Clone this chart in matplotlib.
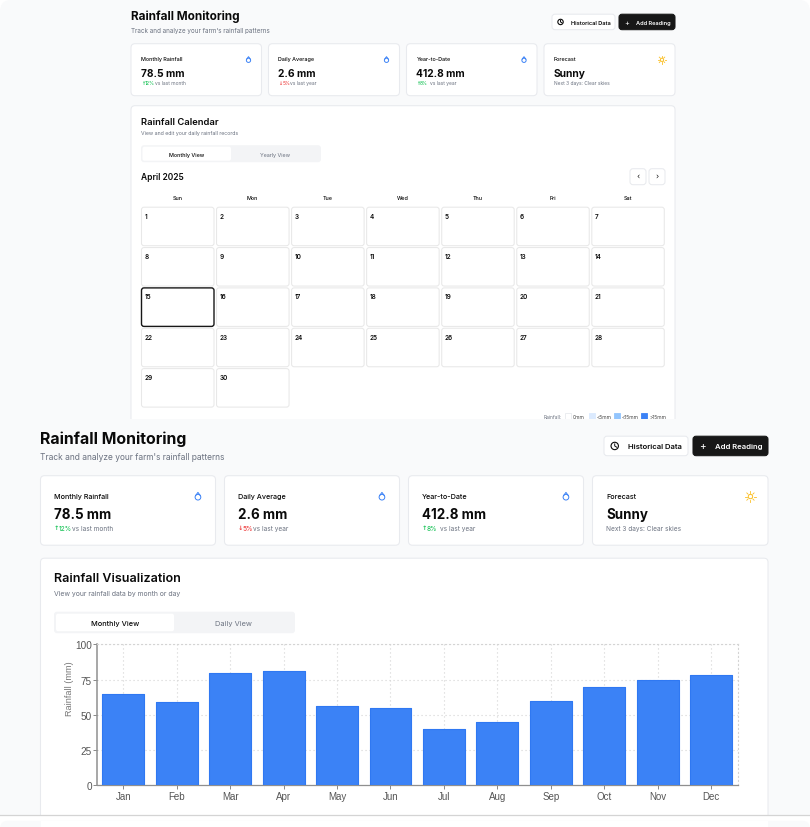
import matplotlib
matplotlib.use("Agg")
import matplotlib.pyplot as plt
from matplotlib.patches import FancyBboxPatch, Rectangle, Circle

# ---------- data ----------
months = ["Jan", "Feb", "Mar", "Apr", "May", "Jun", "Jul", "Aug", "Sep", "Oct", "Nov", "Dec"]
rainfall = [65, 59, 80, 81, 56, 55, 40, 45, 60, 70, 75, 78.5]
y_ticks = [0, 25, 50, 75, 100]
weekdays = ["Sun", "Mon", "Tue", "Wed", "Thu", "Fri", "Sat"]
days = list(range(1, 31))
card_titles = ["Monthly Rainfall", "Daily Average", "Year-to-Date", "Forecast"]
card_values = ["78.5 mm", "2.6 mm", "412.8 mm", "Sunny"]
card_deltas = ["12%", "5%", "8%", ""]
card_notes = ["vs last month", "vs last year", "vs last year", "Next 3 days: Clear skies"]
legend_labels = ["0mm", "<5mm", "<15mm", ">15mm"]
legend_colors = ["#ffffff", "#dbeafe", "#93c5fd", "#3b82f6"]

BG = "#f9fafb"
BORDER = "#e8eaee"
INK = "#0a0a0a"
MUTED = "#6b7280"
GREEN = "#22c55e"
RED = "#ef4444"
BLUE = "#3b82f6"
FONT = "Inter"
DY = 0.4
SHIFT = 0.7

fig = plt.figure(figsize=(8.10, 8.28), dpi=100, facecolor="white")
ui = fig.add_axes([0, 0, 1, 1])
ui.set_xlim(0, 810)
ui.set_ylim(828 - SHIFT, -SHIFT)
ui.axis("off")


def box(x0, y0, x1, y1, fc="white", ec=BORDER, lw=0.75, r=3.0, z=1):
    ui.add_patch(FancyBboxPatch((x0 + r, y0 + r), x1 - x0 - 2 * r, y1 - y0 - 2 * r,
                                boxstyle=f"round,pad={r},rounding_size={r}",
                                fc=fc, ec=ec, lw=lw, zorder=z))


def txt(x, y, s, px, color=INK, weight="normal", ha="left", family=FONT):
    ui.text(x, y + DY, s, fontsize=px * 0.72, color=color, fontweight=weight, ha=ha,
            va="center", family=family, zorder=5)


def sun(x, y, s):
    ui.add_patch(Circle((x, y), s * 0.42, fc="none", ec="#fbbf24", lw=0.7, zorder=5))
    for dx, dy in [(1, 0), (-1, 0), (0, 1), (0, -1), (.7, .7), (-.7, .7), (.7, -.7), (-.7, -.7)]:
        ui.plot([x + dx * s * .65, x + dx * s], [y + dy * s * .65, y + dy * s],
                color="#fbbf24", lw=0.6, zorder=5)


def drop(x, y, s):
    ui.add_patch(Circle((x, y + s * .15), s * .68, fc="none", ec=BLUE, lw=0.7, zorder=5))
    ui.plot([x - s * .55, x, x + s * .55], [y - s * .25, y - s, y - s * .25],
            color=BLUE, lw=0.7, zorder=5)


def clock(x, y, s):
    ui.add_patch(Circle((x, y), s, fc="none", ec=INK, lw=0.8, zorder=5))
    ui.plot([x, x, x + s * .55], [y - s * .55, y, y + s * .35], color=INK, lw=0.7, zorder=5)


def header(x0, x1, y_title, y_sub, t_px, s_px, btn):
    txt(x0, y_title, "Rainfall Monitoring", t_px, weight="bold")
    txt(x0, y_sub, "Track and analyze your farm's rainfall patterns", s_px, color=MUTED)
    hx0, hx1, ax0, by0, by1, fs = btn
    box(hx0, by0, hx1, by1, r=3)
    box(ax0, by0, x1, by1, fc="#171717", ec="#171717", r=3)
    clock(hx0 + (by1 - by0) * .55, (by0 + by1) / 2, fs * .48)
    txt(hx0 + (by1 - by0) * 1.25, (by0 + by1) / 2, "Historical Data", fs, weight="semibold")
    txt(ax0 + (by1 - by0) * .5, (by0 + by1) / 2 - 0.7, "+", fs * 1.3, color="white", ha="center")
    txt(ax0 + (by1 - by0) * 1.12, (by0 + by1) / 2, "Add Reading", fs, color="white", weight="semibold")


def cards(xs, y0, y1, pad, sizes):
    t, v, n, iy = sizes
    h = y1 - y0
    for i, (a, b) in enumerate(xs):
        box(a, y0, b, y1, r=4)
        txt(a + pad, y0 + h * .28, card_titles[i], t, weight="medium")
        txt(a + pad, y0 + h * .55, card_values[i], v, weight="bold")
        ny = y0 + h * .74
        if card_deltas[i]:
            col = RED if i == 1 else GREEN
            arrow = "↓" if i == 1 else "↑"
            txt(a + pad, ny, arrow, n, color=col, weight="bold", family="DejaVu Sans")
            txt(a + pad + n * .75, ny, card_deltas[i], n, color=col, weight="medium")
            w = n * (2.05 if i != 1 else 1.55)
            txt(a + pad + n * .75 + w, ny, card_notes[i], n, color=MUTED)
        else:
            txt(a + pad, ny, card_notes[i], n, color=MUTED)
        ix, iyc = b - pad * 1.3, y0 + h * iy
        if i == 3:
            sun(ix, iyc, t * .72)
        else:
            drop(ix, iyc, t * .58)


# ---------- page backgrounds ----------
box(0, 0, 810, 840, fc=BG, ec="none", r=12, z=0)

# ---------- top screenshot ----------
header(131, 675, 15.5, 29.5, 11.7, 6.3, (552, 615, 619, 14.5, 30, 5.6))
cards([(131, 261.5), (268.5, 399.5), (406.5, 537), (544, 675)], 44, 96, 10, (5.4, 10.2, 4.9, .31))
box(131, 106, 675, 440, r=4)
txt(141, 121, "Rainfall Calendar", 9.4, weight="semibold")
txt(141, 132, "View and edit your daily rainfall records", 5.2, color=MUTED)
box(141, 145.5, 321, 162.5, fc="#f3f4f6", ec="none", r=3, z=2)
box(142.5, 147, 231, 161, ec="none", r=2, z=3)
txt(187, 154, "Monthly View", 5.4, weight="medium", ha="center")
txt(275.5, 154, "Yearly View", 5.4, color=MUTED, ha="center")
txt(141, 176.5, "April 2025", 8.4, weight="semibold")
box(630, 169, 646, 185, r=3)
box(649, 169, 665, 185, r=3)
txt(638, 176, "‹", 8, ha="center", family="DejaVu Sans")
txt(657, 176, "›", 8, ha="center", family="DejaVu Sans")

cal_x0, cal_pitch, cal_w = 141.5, 75.05, 72.5
cal_y0, cal_ypitch, cal_h = 207.5, 40.35, 38.5
for j, w in enumerate(weekdays):
    txt(cal_x0 + j * cal_pitch + cal_w / 2, 197.5, w, 5.4, weight="medium", ha="center")
for d in days:
    r, c = divmod(d - 1, 7)
    x = cal_x0 + c * cal_pitch
    y = cal_y0 + r * cal_ypitch
    today = d == 15
    box(x, y, x + cal_w, y + cal_h, ec="#171717" if today else "#e8e8e8",
        lw=1.0 if today else 0.75, r=2.5, z=3 if today else 2)
    txt(x + 2.8, y + 8, str(d), 6.4, weight="semibold")

txt(543.5, 416, "Rainfall:", 4.9, color=MUTED)
for x_sw, x_tx, lab, col in zip([565, 589, 614, 641], [573, 597, 622, 649], legend_labels, legend_colors):
    ui.add_patch(Rectangle((x_sw, 413.5), 6, 6.5, fc=col, ec=BORDER if col == "#ffffff" else col,
                           lw=0.6, zorder=5))
    txt(x_tx, 416, lab, 5.0, color="#444444")

# the lower screenshot sits over the top one from y=420
ui.add_patch(Rectangle((0, 419.5), 810, 395.5, fc=BG, ec="none", zorder=6))
n_p, n_l, n_t = len(ui.patches), len(ui.lines), len(ui.texts)

# ---------- lower screenshot ----------
header(40, 768, 438, 456, 15.8, 8.4, (604, 688, 693, 436.5, 456, 7.7))
cards([(40.5, 215.5), (224.5, 399.5), (408.5, 583.5), (592.5, 768)], 476, 545.5, 13.5, (7.2, 13.4, 6.5, .30))
box(40.5, 558.5, 768, 860, r=4)
txt(54, 578, "Rainfall Visualization", 12.5, weight="semibold")
txt(54, 593, "View your rainfall data by month or day", 6.9, color=MUTED)
box(54, 612, 295, 633.5, fc="#f3f4f6", ec="none", r=3, z=2)
box(56, 614, 174, 631.5, ec="none", r=2, z=3)
txt(115, 622.5, "Monthly View", 7.4, weight="medium", ha="center")
txt(233.5, 622.5, "Daily View", 7.4, color=MUTED, ha="center")

for coll in (ui.patches[n_p:], ui.lines[n_l:], ui.texts[n_t:]):
    for a in coll:
        a.set_zorder(a.get_zorder() + 6)

# page strip under the lower screenshot
ui.add_patch(Rectangle((0, 815), 810, 14, fc="white", ec="none", zorder=20))
box(0, 821, 810, 860, fc=BG, ec="none", r=8, z=21)
ui.add_patch(Rectangle((41, 821), 727, 8, fc="white", ec="none", zorder=22))
ui.plot([0, 810], [815, 815], color="#d4d4d4", lw=0.9, zorder=23)

# ---------- chart ----------
L, R, T, B = 96.7, 737.7, 645.4, 786.0
ax = fig.add_axes([L / 810, 1 - B / 828, (R - L) / 810, (B - T) / 828], zorder=3)
ax.patch.set_alpha(0)
x = list(range(len(months)))
ax.bar(x, rainfall, width=0.785, color=BLUE, edgecolor="#2f78f2", linewidth=0.8,
       joinstyle="round", zorder=3)
ax.set_xlim(-0.5, 11.5)
ax.set_ylim(0, 100)
ax.set_xticks(x, months)
ax.set_yticks(y_ticks)
ax.grid(True, color="#d4d4d4", lw=0.8, ls=(0, (1, 2.6)), zorder=0)
ax.set_axisbelow(True)
ax.tick_params(axis="both", length=3, width=0.7, color="#888888", labelcolor="#555555", pad=1.5)
ax.tick_params(axis="x", labelsize=7.0)
ax.tick_params(axis="y", labelsize=7.2, pad=0.4)
for lab in ax.get_xticklabels() + ax.get_yticklabels():
    lab.set_family("Liberation Sans")
ax.set_ylabel("Rainfall (mm)", fontsize=6.6, color="#777777", family="Liberation Sans")
ax.yaxis.set_label_coords(-0.036, 0.69)
for side in ("left", "bottom"):
    ax.spines[side].set_color("#8f8f8f")
ax.spines["left"].set_linewidth(1.1)
ax.spines["bottom"].set_linewidth(0.9)
for side in ("top", "right"):
    ax.spines[side].set_color("#d4d4d4")
    ax.spines[side].set_linewidth(0.8)
    ax.spines[side].set_linestyle((0, (1, 2.6)))

fig.savefig("out.png", dpi=100)
